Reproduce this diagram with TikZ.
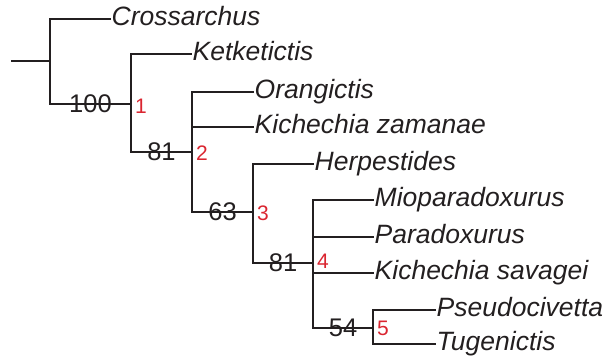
\documentclass[tikz,border=0pt]{standalone}
\usepackage{fontspec}
\setmainfont{Liberation Sans}
\definecolor{clred}{RGB}{218,37,48}
\definecolor{clline}{RGB}{35,31,32}
\begin{document}
\begin{tikzpicture}[x=1pt,y=-1pt,
  branch/.style={draw=clline,line width=2.5pt,line cap=rect},
  taxon/.style={anchor=west,inner xsep=1.5pt,inner ysep=0pt,text height=18pt,text depth=4.4pt,
    font=\fontsize{26.5}{28}\selectfont\itshape,text=clline},
  support/.style={inner sep=0pt,font=\fontsize{25.5}{27}\selectfont,text=clline},
  clade/.style={anchor=west,inner sep=0pt,xshift=4pt,font=\fontsize{21}{23}\selectfont,text=clred}]
\useasboundingbox (0,0) rectangle (609,362);
% internal nodes
\coordinate (r0) at (12,61);
\coordinate (n0) at (50,61);
\coordinate (n1) at (131,104);
\coordinate (n2) at (192,152);
\coordinate (n3) at (253,212);
\coordinate (n4) at (313,263);
\coordinate (n5) at (373,328);
% leaves
\node[taxon] (cro) at (110,19) {Crossarchus};
\node[taxon] (ket) at (191,54) {Ketketictis};
\node[taxon] (ora) at (253,92) {Orangictis};
\node[taxon] (kza) at (253,127) {Kichechia zamanae};
\node[taxon] (her) at (313,164) {Herpestides};
\node[taxon] (mio) at (373,200) {Mioparadoxurus};
\node[taxon] (par) at (373,237) {Paradoxurus};
\node[taxon] (ksa) at (373,273) {Kichechia savagei};
\node[taxon] (pse) at (435,310) {Pseudocivetta};
\node[taxon] (tug) at (435,344) {Tugenictis};
% branches
\draw[branch] (r0) -- (n0);
\draw[branch] (n0) |- (cro.west);
\draw[branch] (n0) |- (n1) node[support,pos=0.75] {100};
\draw[branch] (n1) |- (ket.west);
\draw[branch] (n1) |- (n2) node[support,pos=0.75] {81};
\draw[branch] (n2) |- (ora.west);
\draw[branch] (n2) |- (kza.west);
\draw[branch] (n2) |- (n3) node[support,pos=0.75] {63};
\draw[branch] (n3) |- (her.west);
\draw[branch] (n3) |- (n4) node[support,pos=0.75] {81};
\draw[branch] (n4) |- (mio.west);
\draw[branch] (n4) |- (par.west);
\draw[branch] (n4) |- (ksa.west);
\draw[branch] (n4) |- (n5) node[support,pos=0.75] {54};
\draw[branch] (n5) |- (pse.west);
\draw[branch] (n5) |- (tug.west);
% clade numbers
\node[clade] (c1) at ([yshift=-2pt]n1) {1};
\node[clade] (c2) at ([yshift=-1pt]n2) {2};
\node[clade] (c3) at ([yshift=-1pt]n3) {3};
\node[clade] (c4) at ([yshift=2pt]n4) {4};
\node[clade] (c5) at (n5) {5};
\end{tikzpicture}
\end{document}
